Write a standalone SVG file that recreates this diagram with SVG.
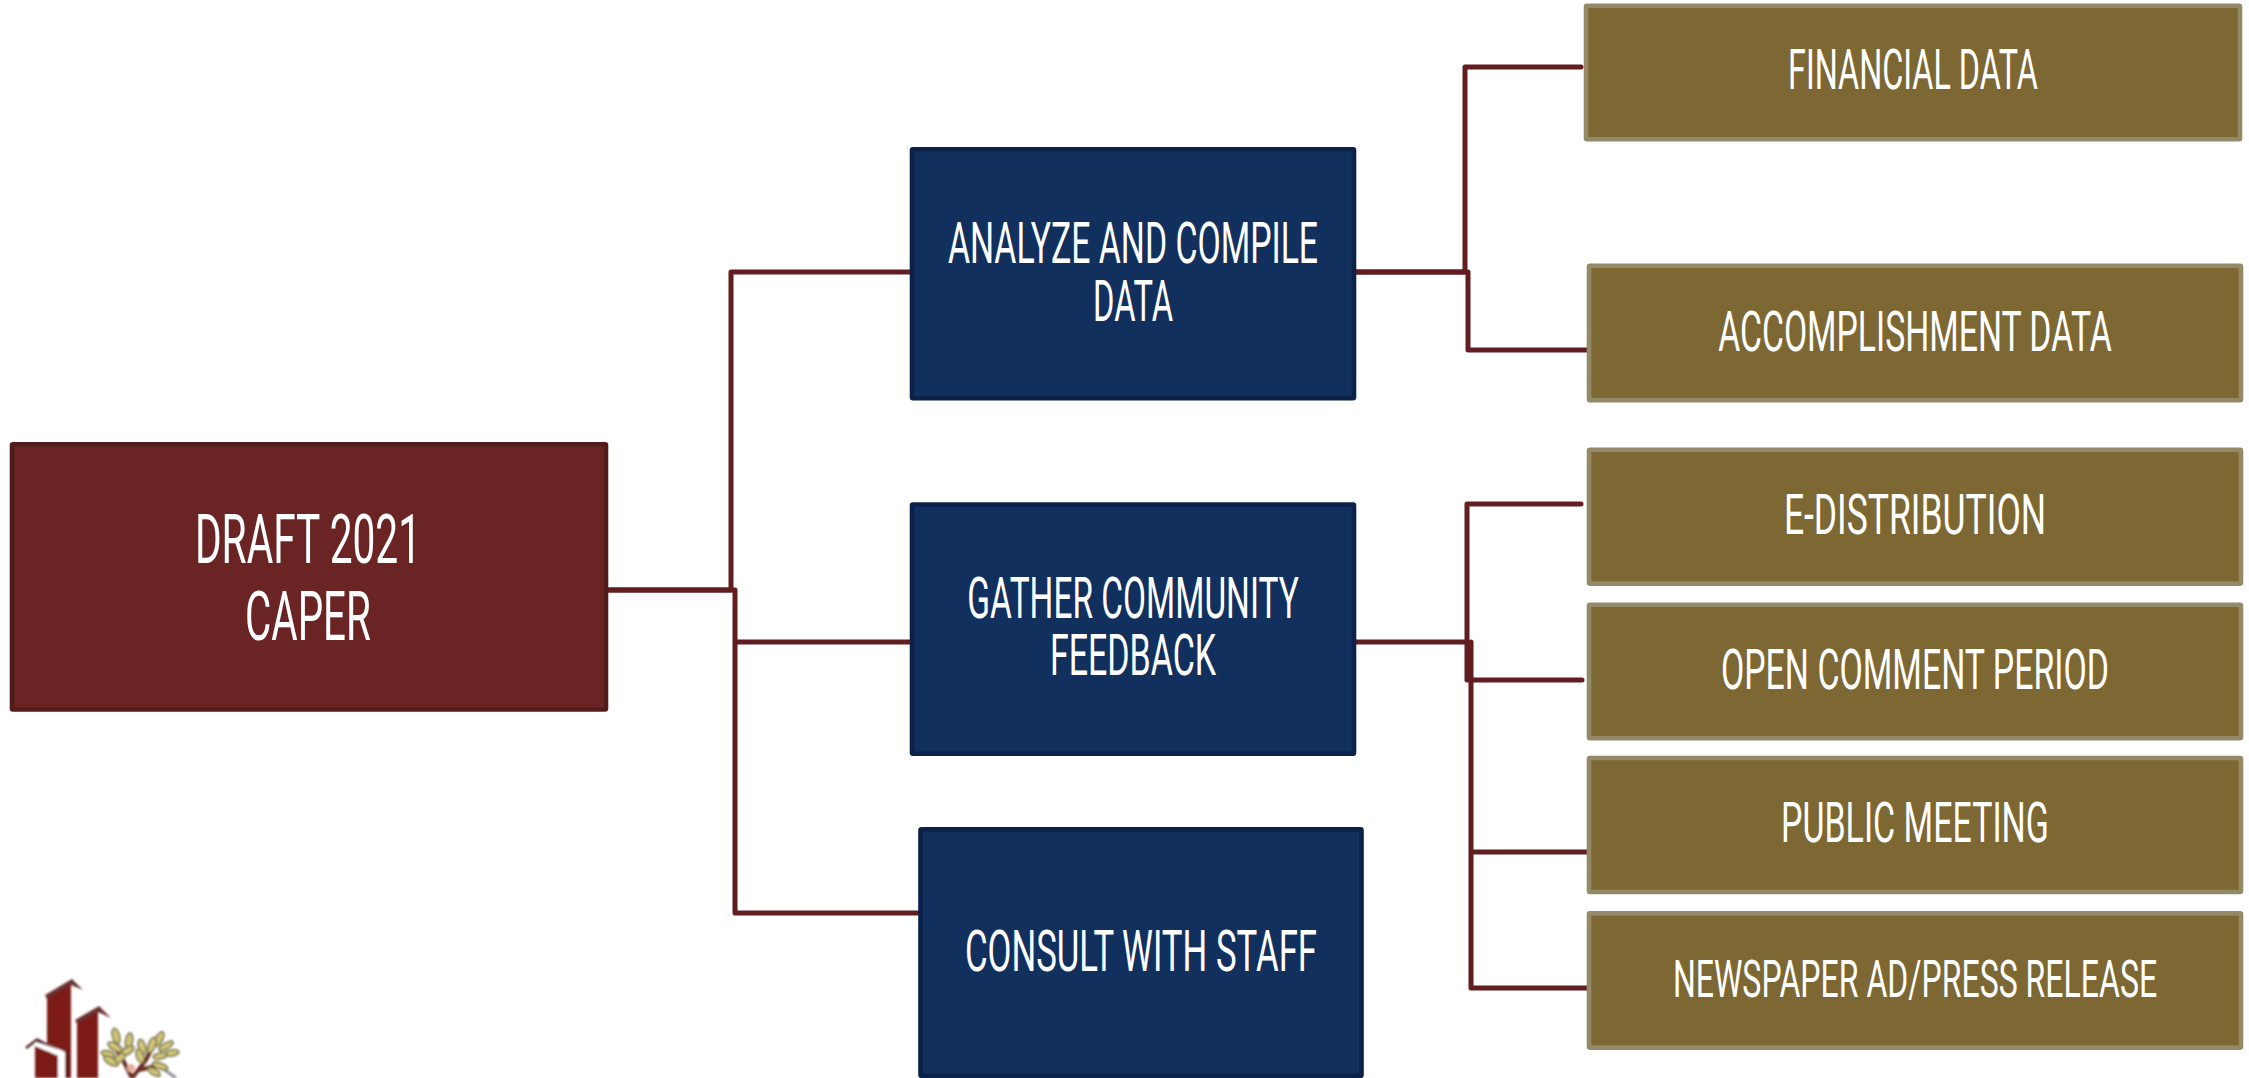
<svg xmlns="http://www.w3.org/2000/svg" width="2249" height="1078" viewBox="0 0 2249 1078">
<style>
.b{stroke-width:4.6;stroke-linejoin:round}
.r{fill:#6a2424;stroke:#521c1c}
.n{fill:#12305e;stroke:#0b2148}
.g{fill:#7d6733;stroke:#948a68}
text{font-family:"Roboto",sans-serif;font-weight:400;fill:#fff;text-anchor:middle;lengthAdjust:spacingAndGlyphs}
.c{fill:none;stroke:#611d20;stroke-width:5;stroke-linejoin:round;stroke-linecap:round}
.k{font-size:69px}.m{font-size:58px}.l{font-size:56px}
.lf{fill:#d3c478;stroke:#77754f;stroke-width:1.6}
</style>
<defs><filter id="s" x="-10%" y="-10%" width="120%" height="120%"><feGaussianBlur stdDeviation="0.8"/></filter></defs>
<rect width="2249" height="1078" fill="#fff"/>
<g id="connectors">
<path class="c" d="M608 590H731V272H909"/>
<path class="c" d="M608 590H735V642H909M735 642V913H918"/>
<path class="c" d="M1356 272H1465V67H1581"/>
<path class="c" d="M1356 272H1468V350H1587"/>
<path class="c" d="M1356 642H1467V504H1581"/>
<path class="c" d="M1467 642V680H1582M1471 642V852H1587M1471 852V988H1587"/>
</g>
<g id="draft"><rect class="b r" x="12" y="444.3" width="594" height="265.2" rx="1"/>
<text class="k" transform="translate(308 563) scale(.58 1)" textLength="390" lengthAdjust="spacingAndGlyphs">DRAFT 2021</text>
<text class="k" transform="translate(308 640) scale(.58 1)" textLength="217" lengthAdjust="spacingAndGlyphs">CAPER</text></g>
<g id="analyze"><rect class="b n" x="912" y="149.3" width="442" height="249" rx="1"/>
<text class="m" transform="translate(1133 263) scale(.62 1)" textLength="597" lengthAdjust="spacingAndGlyphs">ANALYZE AND COMPILE</text>
<text class="m" transform="translate(1133 321) scale(.62 1)" textLength="129" lengthAdjust="spacingAndGlyphs">DATA</text></g>
<g id="gather"><rect class="b n" x="912" y="504.5" width="442" height="249.3" rx="1"/>
<text class="m" transform="translate(1133 618) scale(.62 1)" textLength="535" lengthAdjust="spacingAndGlyphs">GATHER COMMUNITY</text>
<text class="m" transform="translate(1133 675) scale(.62 1)" textLength="268" lengthAdjust="spacingAndGlyphs">FEEDBACK</text></g>
<g id="consult"><rect class="b n" x="920.5" y="829.4" width="441" height="246.5" rx="1"/>
<text class="m" transform="translate(1141 971) scale(.62 1)" textLength="568" lengthAdjust="spacingAndGlyphs">CONSULT WITH STAFF</text></g>
<g id="financial"><rect class="b g" x="1586" y="5.7" width="654" height="133.6" rx="1"/>
<text class="l" transform="translate(1913 89) scale(.62 1)" textLength="403" lengthAdjust="spacingAndGlyphs">FINANCIAL DATA</text></g>
<g id="accomplishment"><rect class="b g" x="1589" y="265.7" width="652" height="134.6" rx="1"/>
<text class="l" transform="translate(1915 351) scale(.62 1)" textLength="635" lengthAdjust="spacingAndGlyphs">ACCOMPLISHMENT DATA</text></g>
<g id="edist"><rect class="b g" x="1589" y="449.7" width="652" height="133.9" rx="1"/>
<text class="l" transform="translate(1915 534) scale(.62 1)" textLength="423" lengthAdjust="spacingAndGlyphs">E-DISTRIBUTION</text></g>
<g id="open"><rect class="b g" x="1589" y="604.7" width="652" height="133.6" rx="1"/>
<text class="l" transform="translate(1915 689) scale(.62 1)" textLength="626" lengthAdjust="spacingAndGlyphs">OPEN COMMENT PERIOD</text></g>
<g id="public"><rect class="b g" x="1589" y="758" width="652" height="134" rx="1"/>
<text class="l" transform="translate(1915 842) scale(.62 1)" textLength="432" lengthAdjust="spacingAndGlyphs">PUBLIC MEETING</text></g>
<g id="newspaper"><rect class="b g" x="1589" y="913.4" width="652" height="134.2" rx="1"/>
<text transform="translate(1915 997) scale(.62 1)" font-size="52" textLength="781" lengthAdjust="spacingAndGlyphs">NEWSPAPER AD/PRESS RELEASE</text></g>
<g id="logo" filter="url(#s)">
<path d="M47 997L71 981V1078H47Z" fill="#7d1a16"/><path d="M45 995L72 979L83 990L71 985L47 999Z" fill="#6b3030"/>
<path d="M77 1021L98 1008V1078H77Z" fill="#7d1a16"/><path d="M75 1020L99 1006L111 1018L98 1012L77 1024Z" fill="#6b3030"/>
<path d="M65 1050H70V1078H65Z" fill="#6a1a16"/>
<path d="M36 1038L65 1052V1078H58V1056L36 1046Z" fill="#fff"/>
<path d="M35 1046L58 1056V1078H35Z" fill="#7d1a16"/><path d="M25 1047L37 1038L60 1050L36 1042L27 1049Z" fill="#5f3030"/>
<path d="M132 1078L122 1058L115 1048M132 1078L146 1060L152 1048M139 1070L156 1066" stroke="#6b2a20" stroke-width="4" fill="none"/>
<circle cx="131" cy="1068" r="4" fill="#e8b09a"/>
<path d="M165 1070L176 1078" stroke="#8d9399" stroke-width="3"/>
<g class="lf">
<ellipse class="lf" cx="116" cy="1036" rx="3.5" ry="8" transform="rotate(-15 116 1036)"/>
<ellipse class="lf" cx="129" cy="1041" rx="3.5" ry="8" transform="rotate(10 129 1041)"/>
<ellipse class="lf" cx="115" cy="1047" rx="8" ry="3.5" transform="rotate(30 115 1047)"/>
<ellipse class="lf" cx="127" cy="1051" rx="8" ry="3.5" transform="rotate(-30 127 1051)"/>
<ellipse class="lf" cx="108" cy="1054" rx="7" ry="3" transform="rotate(15 108 1054)"/>
<ellipse class="lf" cx="111" cy="1061" rx="8" ry="3.5" transform="rotate(30 111 1061)"/>
<ellipse class="lf" cx="120" cy="1058" rx="6" ry="3.5" transform="rotate(-40 120 1058)"/>
<ellipse class="lf" cx="142" cy="1047" rx="3.5" ry="8" transform="rotate(-15 142 1047)"/>
<ellipse class="lf" cx="159" cy="1039" rx="3.5" ry="8" transform="rotate(30 159 1039)"/>
<ellipse class="lf" cx="152" cy="1045" rx="3.5" ry="8" transform="rotate(20 152 1045)"/>
<ellipse class="lf" cx="166" cy="1046" rx="8" ry="3" transform="rotate(-30 166 1046)"/>
<ellipse class="lf" cx="172" cy="1053" rx="7" ry="3" transform="rotate(-10 172 1053)"/>
<ellipse class="lf" cx="140" cy="1056" rx="3.5" ry="7" transform="rotate(-20 140 1056)"/>
<ellipse class="lf" cx="160" cy="1056" rx="7" ry="3" transform="rotate(-10 160 1056)"/>
<ellipse class="lf" cx="160" cy="1066" rx="8" ry="3" transform="rotate(20 160 1066)"/>
<ellipse class="lf" cx="154" cy="1072" rx="7" ry="3" transform="rotate(30 154 1072)"/>
</g>
</g>
</svg>
